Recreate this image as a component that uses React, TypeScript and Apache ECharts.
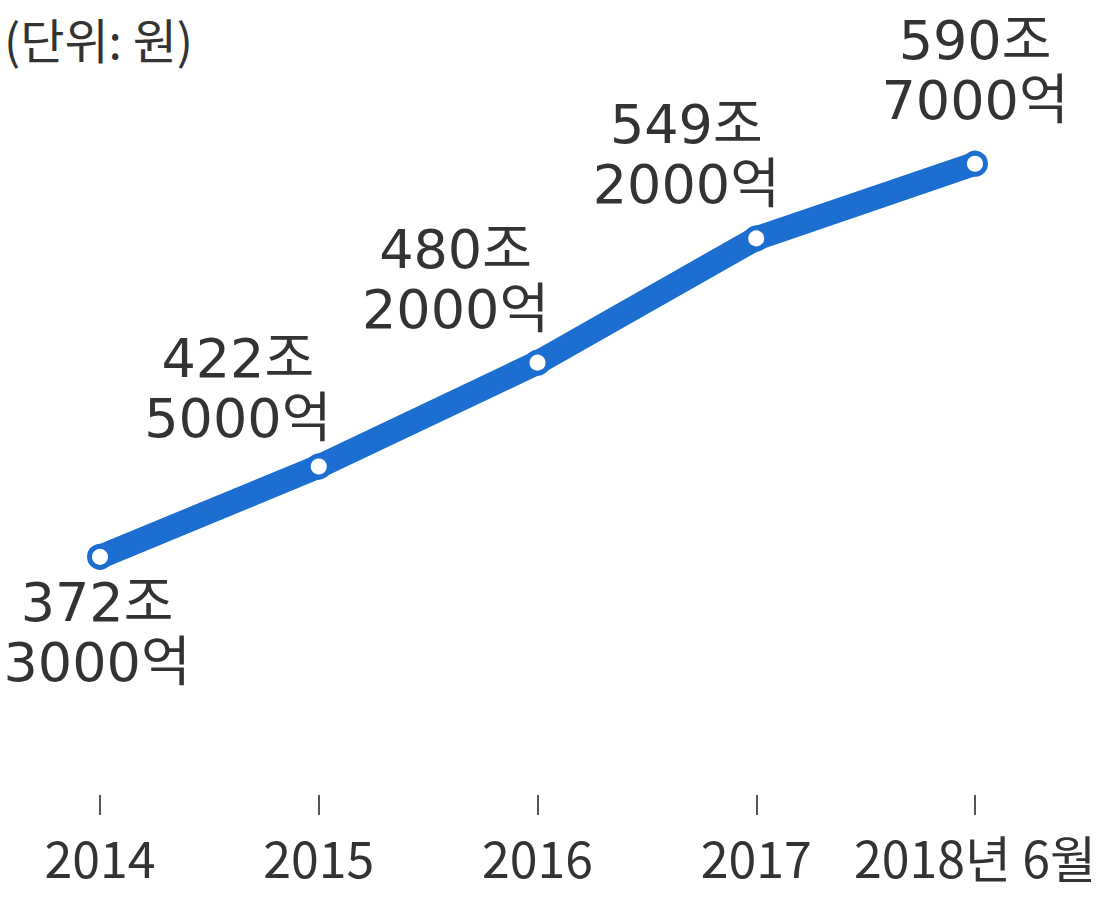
import React, { useEffect, useRef } from "react";
import * as echarts from "echarts";

const categories = ["2014", "2015", "2016", "2017", "2018년 6월"];
const trillionPart = [372, 422, 480, 549, 590]; // 조
const hundredMillionPart = [3000, 5000, 2000, 2000, 7000]; // 억
const unitLabel = "(단위: 원)";

// label placement (style only)
const labelPlacement: { pos: "top" | "bottom"; dx: number; dy: number }[] = [
  { pos: "bottom", dx: -3, dy: -2 },
  { pos: "top", dx: -81, dy: 0 },
  { pos: "top", dx: -82, dy: -5 },
  { pos: "top", dx: -70, dy: -6 },
  { pos: "top", dx: 0, dy: -15 },
];

const values = trillionPart.map((t, i) => t + hundredMillionPart[i] / 10000);

export default function App() {
  const ref = useRef<HTMLDivElement>(null);
  useEffect(() => {
    if (!ref.current) return;
    const chart = echarts.init(ref.current, undefined, { renderer: "svg" });
    const data = values.map((v, i) => ({
      value: v,
      label: {
        position: labelPlacement[i].pos,
        offset: [labelPlacement[i].dx, labelPlacement[i].dy],
      },
    }));
    chart.setOption({
      animation: false,
      backgroundColor: "#ffffff",
      title: {
        text: unitLabel,
        left: 4,
        top: 10,
        padding: 0,
        textStyle: {
          fontSize: 48,
          lineHeight: 56,
          fontWeight: "normal",
          color: "#333",
          fontFamily: "'Noto Sans CJK KR', sans-serif",
        },
      },
      grid: { left: 100, right: 126, top: 147, bottom: 123 },
      xAxis: {
        type: "category",
        data: categories,
        boundaryGap: false,
        axisLine: { show: false },
        axisTick: { show: true, interval: 0, length: 20, lineStyle: { color: "#555", width: 2 } },
        axisLabel: {
          interval: 0,
          margin: 35,
          fontSize: 50,
          lineHeight: 52,
          color: "#333",
          fontFamily: "'Noto Sans CJK KR', sans-serif",
        },
        splitLine: { show: false },
      },
      yAxis: {
        type: "value",
        min: 240,
        max: 600,
        show: false,
        splitLine: { show: false },
      },
      series: [
        {
          type: "line",
          data,
          lineStyle: { color: "#1c6fd1", width: 24, cap: "round", join: "round" },
          symbol: "circle",
          symbolSize: 21,
          itemStyle: { color: "#ffffff", borderColor: "#1c6fd1", borderWidth: 5 },
          label: {
            show: true,
            distance: 5,
            formatter: (p: any) =>
              `${trillionPart[p.dataIndex]}조\n${hundredMillionPart[p.dataIndex]}억`,
            fontSize: 54,
            lineHeight: 60,
            color: "#333",
            align: "center",
            fontFamily: "'DejaVu Sans', 'Noto Sans CJK KR', sans-serif",
          },
        },
      ],
    });
    return () => chart.dispose();
  }, []);
  return (
    <div
      ref={ref}
      style={{ position: "absolute", left: 0, top: 0, width: 1101, height: 918, background: "#fff" }}
    />
  );
}
